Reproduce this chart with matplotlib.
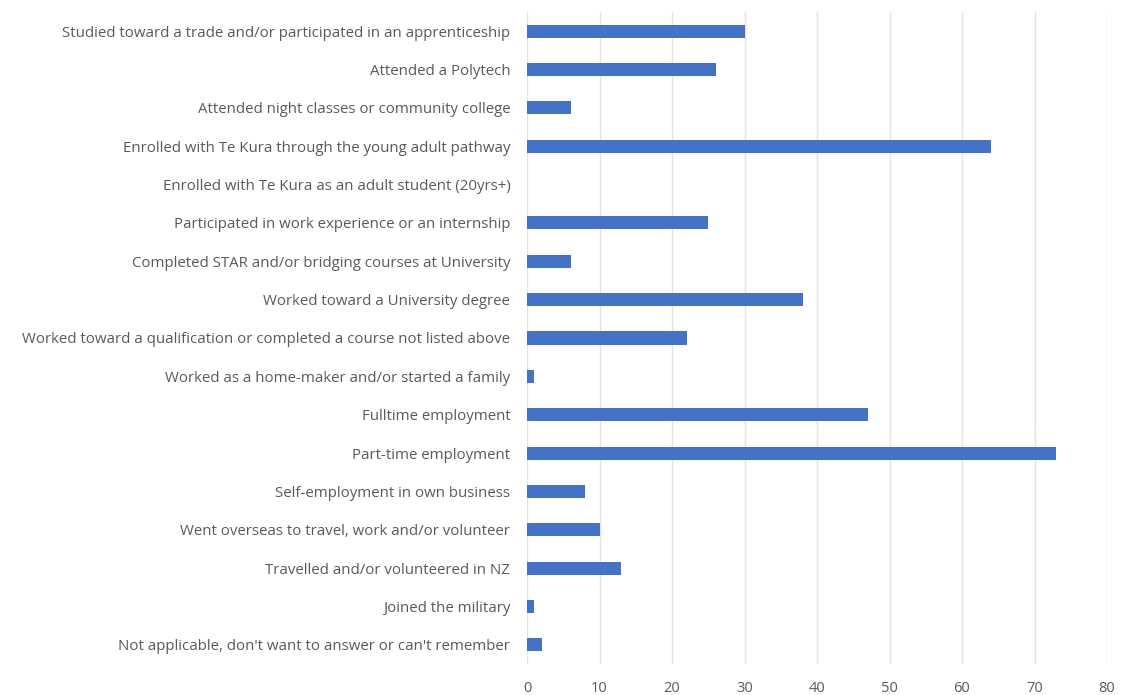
import matplotlib
matplotlib.use("Agg")
import matplotlib.pyplot as plt

categories = [
    "Studied toward a trade and/or participated in an apprenticeship",
    "Attended a Polytech",
    "Attended night classes or community college",
    "Enrolled with Te Kura through the young adult pathway",
    "Enrolled with Te Kura as an adult student (20yrs+)",
    "Participated in work experience or an internship",
    "Completed STAR and/or bridging courses at University",
    "Worked toward a University degree",
    "Worked toward a qualification or completed a course not listed above",
    "Worked as a home-maker and/or started a family",
    "Fulltime employment",
    "Part-time employment",
    "Self-employment in own business",
    "Went overseas to travel, work and/or volunteer",
    "Travelled and/or volunteered in NZ",
    "Joined the military",
    "Not applicable, don't want to answer or can't remember",
]
values = [30, 26, 6, 64, 0, 25, 6, 38, 22, 1, 47, 73, 8, 10, 13, 1, 2]
x_ticks = [0, 10, 20, 30, 40, 50, 60, 70, 80]

W, H = 1125, 695
fig = plt.figure(figsize=(W / 100, H / 100), dpi=100)
left, right, top, bottom = 527, 1107, 12, 664
ax = fig.add_axes([left / W, 1 - bottom / H, (right - left) / W, (bottom - top) / H])

ypos = list(range(len(categories)))
ax.barh(ypos, values, height=0.34, color="#4472C4", zorder=3)
ax.set_ylim(len(categories) - 0.5, -0.5)
ax.set_xlim(0, 80)
ax.set_xticks(x_ticks)
ax.set_yticks(ypos)
ax.set_yticklabels(categories, fontsize=10.8, color="#595959", family="Open Sans")
ax.set_xticklabels([str(t) for t in x_ticks], fontsize=10.5, color="#595959", family="Open Sans")
ax.xaxis.grid(True, color="#e3e3e3", linewidth=1, zorder=0)
ax.tick_params(axis="both", length=0)
ax.tick_params(axis="y", pad=12)
ax.tick_params(axis="x", pad=12)
for s in ax.spines.values():
    s.set_visible(False)

fig.savefig("out.png", dpi=100)
